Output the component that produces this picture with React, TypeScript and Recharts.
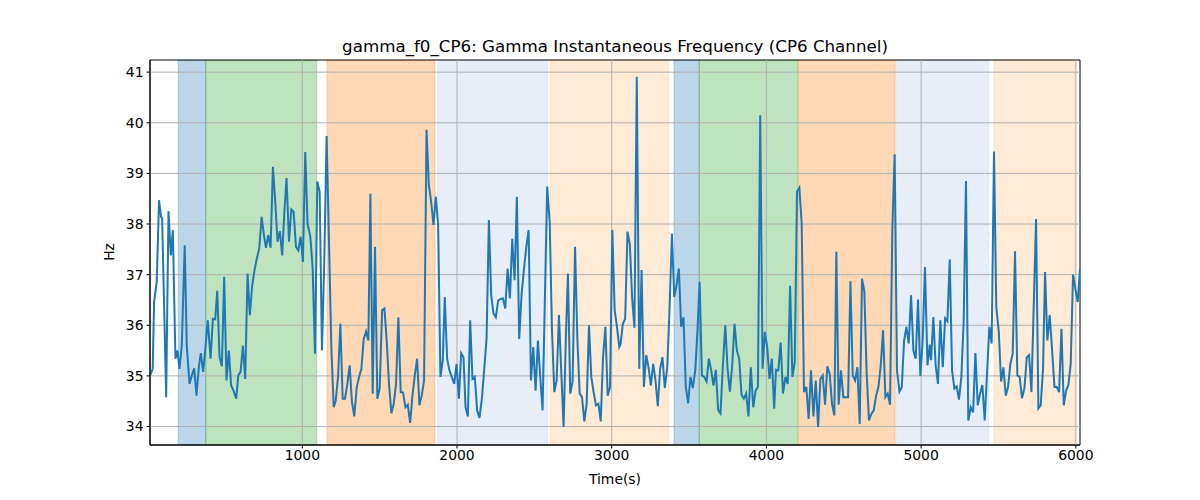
import { LineChart, Line, XAxis, YAxis, ReferenceArea, ReferenceLine } from 'recharts';

// time (s) and instantaneous gamma frequency (Hz)
const TIMES = [
  16, 33, 42, 59, 74, 87, 94, 120, 135, 150, 163, 180, 193, 206, 221, 240, 253, 271, 286, 301,
  316, 331, 344, 359, 374, 389, 407, 422, 437, 450, 465, 480, 495, 510, 525, 540, 555, 573, 586, 601,
  616, 631, 646, 661, 676, 691, 706, 722, 737, 752, 765, 780, 795, 810, 825, 840, 855, 870, 883, 898,
  914, 929, 944, 959, 974, 989, 1004, 1019, 1034, 1052, 1067, 1082, 1097, 1112, 1127, 1142, 1157, 1188, 1203, 1216,
  1231, 1246, 1261, 1276, 1291, 1306, 1321, 1336, 1352, 1367, 1382, 1397, 1412, 1427, 1440, 1455, 1470, 1485, 1500, 1516,
  1531, 1546, 1561, 1576, 1591, 1606, 1621, 1636, 1651, 1667, 1682, 1697, 1712, 1727, 1742, 1757, 1772, 1787, 1803, 1818,
  1833, 1848, 1863, 1878, 1893, 1908, 1921, 1936, 1951, 1966, 1982, 1997, 2012, 2027, 2042, 2055, 2070, 2085, 2100, 2115,
  2130, 2145, 2161, 2176, 2191, 2206, 2221, 2236, 2251, 2266, 2281, 2297, 2312, 2327, 2342, 2357, 2372, 2387, 2402, 2417,
  2432, 2448, 2463, 2478, 2493, 2508, 2523, 2538, 2553, 2583, 2599, 2614, 2629, 2644, 2659, 2674, 2689, 2704, 2717, 2732,
  2747, 2763, 2778, 2793, 2808, 2823, 2838, 2853, 2868, 2883, 2898, 2914, 2929, 2944, 2959, 2974, 2989, 3004, 3019, 3034,
  3049, 3057, 3072, 3087, 3102, 3117, 3132, 3147, 3162, 3178, 3193, 3208, 3223, 3238, 3253, 3268, 3283, 3298, 3313, 3328,
  3343, 3359, 3374, 3389, 3404, 3419, 3434, 3449, 3464, 3479, 3494, 3509, 3524, 3540, 3555, 3568, 3583, 3598, 3613, 3628,
  3643, 3658, 3673, 3688, 3703, 3718, 3734, 3749, 3764, 3779, 3794, 3809, 3824, 3839, 3854, 3869, 3884, 3899, 3915, 3930,
  3945, 3960, 3975, 3990, 4005, 4020, 4035, 4050, 4062, 4077, 4092, 4107, 4123, 4138, 4153, 4168, 4183, 4198, 4213, 4228,
  4243, 4258, 4273, 4288, 4304, 4319, 4334, 4349, 4364, 4379, 4394, 4409, 4424, 4439, 4452, 4467, 4482, 4497, 4512, 4528,
  4543, 4558, 4573, 4588, 4603, 4618, 4633, 4648, 4663, 4678, 4694, 4709, 4724, 4739, 4754, 4769, 4784, 4799, 4814, 4829,
  4844, 4860, 4875, 4890, 4905, 4920, 4935, 4950, 4965, 4980, 4995, 5010, 5025, 5041, 5056, 5064, 5079, 5094, 5109, 5124,
  5140, 5155, 5170, 5185, 5200, 5215, 5230, 5245, 5260, 5275, 5290, 5305, 5321, 5336, 5351, 5366, 5381, 5396, 5411, 5426,
  5441, 5456, 5471, 5486, 5502, 5517, 5532, 5547, 5562, 5577, 5592, 5607, 5622, 5637, 5652, 5668, 5683, 5698, 5713, 5743,
  5758, 5773, 5788, 5801, 5816, 5831, 5846, 5862, 5877, 5892, 5907, 5922, 5937, 5952, 5967, 5982, 5997, 6012, 6027,
];

const FREQ = [
  35.01, 35.14, 36.46, 36.86, 38.47, 38.14, 38.11, 34.58, 38.25, 37.38, 37.88, 35.34, 35.5, 35.14, 35.6, 37.58, 35.6, 34.84, 35.01, 35.15,
  34.61, 35.17, 35.45, 35.08, 35.57, 36.1, 35.34, 36.13, 36.12, 36.68, 35.37, 35.19, 36.96, 34.91, 35.5, 34.81, 34.71, 34.55, 35.01, 35.08,
  35.6, 34.94, 37.02, 36.2, 36.79, 37.09, 37.32, 37.52, 38.14, 37.78, 37.53, 37.78, 37.53, 39.13, 38.44, 37.65, 37.86, 37.38, 38.18, 38.91,
  37.65, 38.29, 38.24, 37.55, 37.48, 37.75, 37.25, 39.42, 38.0, 37.75, 37.12, 35.44, 38.84, 38.64, 35.5, 37.25, 39.74, 35.54, 34.38, 34.51,
  34.98, 36.03, 34.55, 34.55, 34.84, 35.21, 34.48, 34.2, 34.78, 34.98, 35.14, 35.73, 35.88, 35.7, 38.6, 34.65, 37.55, 34.55, 34.75, 36.3,
  36.33, 35.67, 34.81, 34.26, 34.45, 34.84, 36.16, 34.68, 34.67, 34.38, 34.43, 34.07, 34.61, 35.01, 35.34, 34.42, 34.61, 34.91, 39.86, 38.77,
  38.44, 37.98, 38.54, 37.98, 34.98, 35.31, 36.56, 35.34, 35.11, 34.98, 34.84, 35.24, 34.55, 35.45, 35.37, 34.38, 34.2, 36.1, 34.94, 34.98,
  34.32, 34.17, 34.55, 35.14, 35.73, 38.08, 36.59, 36.23, 36.16, 36.49, 36.52, 36.53, 36.33, 37.12, 36.53, 37.71, 36.89, 38.54, 35.73, 36.59,
  37.09, 37.55, 37.88, 34.91, 35.57, 34.71, 35.7, 34.98, 34.32, 38.74, 38.04, 35.9, 34.68, 34.91, 36.2, 35.08, 33.99, 35.8, 37.02, 34.65,
  34.88, 37.55, 35.73, 34.65, 34.58, 34.1, 34.45, 36.0, 34.98, 34.68, 34.42, 34.45, 34.1, 35.37, 35.97, 34.61, 34.78, 37.88, 36.3, 35.97,
  35.57, 35.62, 36.03, 36.13, 37.85, 37.61, 36.53, 35.95, 40.91, 35.14, 37.09, 34.78, 35.41, 35.17, 34.81, 35.24, 34.91, 34.4, 35.14, 35.37,
  34.76, 35.17, 36.33, 37.81, 36.56, 36.79, 37.12, 35.97, 36.16, 34.78, 34.46, 34.98, 34.76, 35.11, 35.93, 36.86, 35.01, 34.98, 34.89, 35.34,
  35.11, 34.81, 35.12, 34.33, 34.26, 35.17, 36.0, 35.14, 34.69, 35.21, 36.03, 35.5, 35.34, 34.63, 34.55, 34.65, 34.2, 35.17, 34.38, 34.71,
  34.78, 40.15, 35.14, 35.87, 35.57, 34.94, 35.34, 34.35, 35.12, 35.11, 35.66, 34.65, 34.98, 34.84, 36.78, 34.98, 35.27, 38.64, 38.72, 38.01,
  34.68, 34.78, 34.15, 35.11, 34.2, 34.91, 33.99, 34.94, 35.01, 34.43, 35.19, 35.04, 34.45, 34.22, 37.45, 34.43, 35.11, 34.58, 34.58, 34.58,
  36.87, 35.01, 34.91, 35.17, 34.05, 36.92, 36.67, 35.04, 34.12, 34.25, 34.32, 34.61, 34.78, 35.21, 35.9, 34.58, 34.65, 34.43, 37.91, 39.38,
  35.11, 34.69, 34.78, 35.7, 35.97, 35.64, 36.59, 35.5, 35.34, 36.51, 35.0, 35.7, 37.15, 35.21, 35.62, 35.31, 36.16, 35.21, 34.84, 36.1,
  35.17, 36.14, 36.08, 37.3, 35.11, 34.75, 34.79, 34.53, 34.98, 36.06, 38.85, 34.12, 34.38, 34.28, 35.45, 34.42, 34.65, 34.82, 34.12, 35.04,
  35.97, 35.64, 39.43, 36.36, 35.87, 34.89, 35.17, 34.61, 34.78, 35.24, 35.44, 37.46, 35.01, 34.98, 34.56, 34.76, 35.37, 35.41, 34.68, 38.1,
  34.36, 34.42, 35.14, 37.05, 35.7, 36.2, 35.54, 34.78, 34.78, 34.68, 35.93, 34.42, 34.71, 34.82, 35.24, 37.0, 36.72, 36.46, 37.12,
];

// shaded task phases
const SPAN_STARTS = [198, 376, 1160, 1875, 2601, 3403, 3566, 4208, 4836, 5471];
const SPAN_ENDS = [376, 1093, 1858, 2586, 3370, 3566, 4204, 4831, 5437, 6000];
const SPAN_PHASES = ['A', 'B', 'C', 'D', 'E', 'A', 'B', 'C', 'D', 'E'];

const X_TICKS = [1000, 2000, 3000, 4000, 5000, 6000];
const Y_TICKS = [34, 35, 36, 37, 38, 39, 40, 41];
const X_DOMAIN = [15.5, 6027];
const Y_DOMAIN = [33.635, 41.24];

const PHASE_COLORS: Record<string, string> = {
  A: '#1f77b4',
  B: '#2ca02c',
  C: '#ff7f0e',
  D: '#aec7e8',
  E: '#ffbb78',
};

const chartData = TIMES.map((t, i) => ({ t, hz: FREQ[i] }));

const FONT = '"DejaVu Sans", sans-serif';
const tickStyle = { fill: '#000', fontSize: 13.9, fontFamily: FONT };

export default function App() {
  return (
    <div style={{ position: 'absolute', left: 0, top: 0, width: 1200, height: 500, background: '#fff', fontFamily: FONT }}>
      <LineChart width={1200} height={500} data={chartData} margin={{ top: 60, right: 120, bottom: 25, left: 100 }}>
        <XAxis
          dataKey="t"
          type="number"
          domain={X_DOMAIN}
          ticks={X_TICKS}
          allowDataOverflow
          height={30}
          tick={tickStyle}
          tickSize={3.5}
          tickMargin={2}
          axisLine={{ stroke: '#000' }}
          tickLine={{ stroke: '#000' }}
        />
        <YAxis
          type="number"
          domain={Y_DOMAIN}
          ticks={Y_TICKS}
          allowDataOverflow
          width={50}
          tick={tickStyle}
          tickSize={3.5}
          tickMargin={3}
          axisLine={{ stroke: '#000' }}
          tickLine={{ stroke: '#000' }}
        />
        {SPAN_STARTS.map((s, i) => (
          <ReferenceArea
            key={`span-${i}`}
            x1={s}
            x2={SPAN_ENDS[i]}
            fill={PHASE_COLORS[SPAN_PHASES[i]]}
            fillOpacity={0.3}
            stroke={PHASE_COLORS[SPAN_PHASES[i]]}
            strokeOpacity={0.3}
            ifOverflow="hidden"
          />
        ))}
        {X_TICKS.map(v => (
          <ReferenceLine key={`gx-${v}`} x={v} stroke="#b0b0b0" strokeWidth={1} />
        ))}
        {Y_TICKS.map(v => (
          <ReferenceLine key={`gy-${v}`} y={v} stroke="#b0b0b0" strokeWidth={1} />
        ))}
        <Line type="linear" dataKey="hz" stroke="#1f77b4" strokeWidth={2} dot={false} isAnimationActive={false} />
        <ReferenceArea
          x1={X_DOMAIN[0]}
          x2={X_DOMAIN[1]}
          y1={Y_DOMAIN[0]}
          y2={Y_DOMAIN[1]}
          fill="none"
          stroke="#000"
          strokeWidth={1}
        />
      </LineChart>
      <div style={{ position: 'absolute', left: 150, width: 930, top: 38, textAlign: 'center', fontSize: 16.7, lineHeight: 1, color: '#000' }}>
        gamma_f0_CP6: Gamma Instantaneous Frequency (CP6 Channel)
      </div>
      <div style={{ position: 'absolute', left: 150, width: 930, top: 473, textAlign: 'center', fontSize: 13.9, lineHeight: 1, color: '#000' }}>
        Time(s)
      </div>
      <div
        style={{
          position: 'absolute',
          left: 60,
          top: 245,
          width: 100,
          textAlign: 'center',
          fontSize: 13.9,
          lineHeight: 1,
          color: '#000',
          transform: 'rotate(-90deg)',
        }}
      >
        Hz
      </div>
    </div>
  );
}
